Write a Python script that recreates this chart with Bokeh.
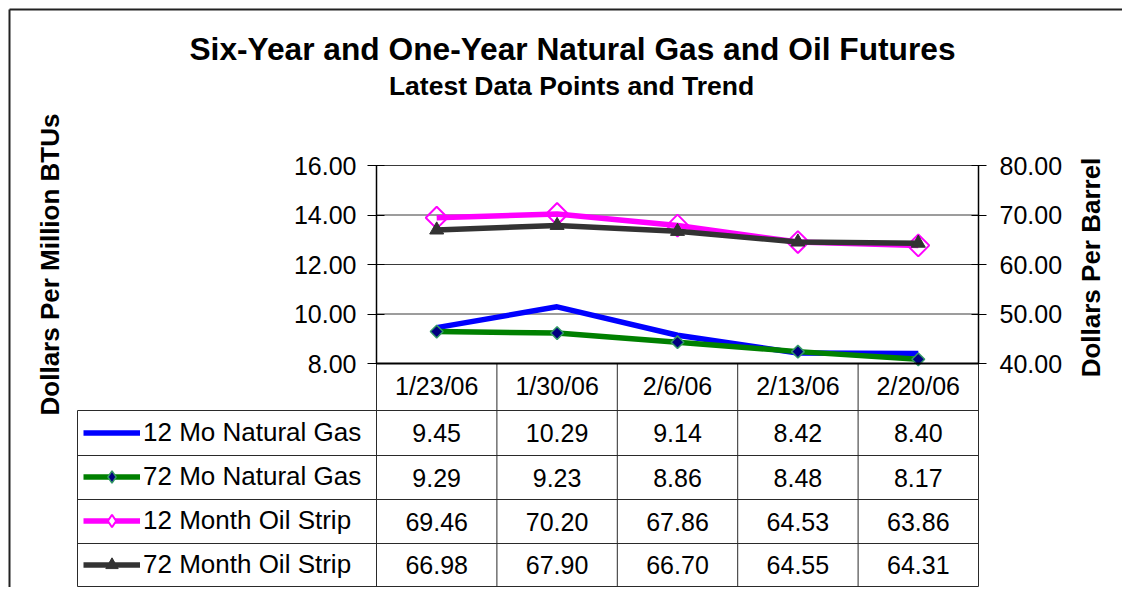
import math
from bokeh.plotting import figure
from bokeh.models import (Range1d, LinearAxis, FixedTicker, NumeralTickFormatter,
                          Label, LabelSet, ColumnDataSource, Legend, LegendItem)
from bokeh.core.properties import value
from bokeh.embed import file_html
from bokeh.resources import INLINE

# ---------------- data ----------------
dates = ["1/23/06", "1/30/06", "2/6/06", "2/13/06", "2/20/06"]
gas_12 = [9.45, 10.29, 9.14, 8.42, 8.40]
gas_72 = [9.29, 9.23, 8.86, 8.48, 8.17]
oil_12 = [69.46, 70.20, 67.86, 64.53, 63.86]
oil_72 = [66.98, 67.90, 66.70, 64.55, 64.31]
series_names = ["12 Mo Natural Gas", "72 Mo Natural Gas", "12 Month Oil Strip", "72 Month Oil Strip"]
gas_ticks = [8, 10, 12, 14, 16]
oil_ticks = [40, 50, 60, 70, 80]
title_text = "Six-Year and One-Year Natural Gas and Oil Futures"
subtitle_text = "Latest Data Points and Trend"
left_label = "Dollars Per Million BTUs"
right_label = "Dollars Per Barrel"

# ---------------- layout (canvas pixels) ----------------
FONT = "Liberation Sans"
W, H = 1122, 587
FL, FR, FT, FB = 376, 978, 165, 363          # plot area edges
ROW_LINES = [410, 455, 499, 543, 586]         # data-table horizontal rules
TABLE_LEFT = 77
n = len(dates)
col_w = (FR - FL) / n
ppu_gas = (FB - FT) / (gas_ticks[-1] - gas_ticks[0])
ppu_oil = (FB - FT) / (oil_ticks[-1] - oil_ticks[0])
xpos = [i + 0.5 for i in range(n)]
X0 = -FL / col_w
Y1 = gas_ticks[-1] + FT / ppu_gas


def sx(px):          # frame-relative screen units (frame == whole canvas)
    return px


def sy(py):
    return H - py


def dx(px):          # canvas pixel -> data x (inverse of the linear x scale)
    return X0 + px / col_w


def dy(py):          # canvas pixel -> data y on the gas axis
    return Y1 - py / ppu_gas


p = figure(width=W, height=H, output_backend="svg", toolbar_location=None,
           x_range=Range1d(X0, n + (W - FR) / col_w),
           y_range=Range1d(gas_ticks[0] - (H - FB) / ppu_gas, Y1),
           min_border=0, min_border_left=0, min_border_right=0,
           min_border_top=0, min_border_bottom=0)
p.extra_y_ranges = {"oil": Range1d(oil_ticks[0] - (H - FB) / ppu_oil, oil_ticks[-1] + FT / ppu_oil)}
p.title.text = ""
p.title.visible = False
p.outline_line_color = None
p.background_fill_color = "white"
p.border_fill_color = "white"
p.xgrid.visible = False
p.ygrid.visible = False

# horizontal gridlines of the plot area
p.segment(x0=[0] * (len(gas_ticks) - 1), x1=[n] * (len(gas_ticks) - 1),
          y0=gas_ticks[1:], y1=gas_ticks[1:], line_color="#3a3a3a", line_width=1)

# ---------------- data table rules ----------------
tx0, ty0, tx1, ty1 = [], [], [], []
for yl in ROW_LINES:
    tx0.append(dx(TABLE_LEFT)); tx1.append(n); ty0.append(dy(yl)); ty1.append(dy(yl))
tx0.append(dx(TABLE_LEFT)); tx1.append(dx(TABLE_LEFT)); ty0.append(dy(ROW_LINES[0])); ty1.append(dy(ROW_LINES[-1]))
for i in range(n + 1):
    tx0.append(i); tx1.append(i); ty0.append(gas_ticks[0]); ty1.append(dy(ROW_LINES[-1]))
p.segment(x0=tx0, y0=ty0, x1=tx1, y1=ty1, line_color="#2a2a2a", line_width=1)

# outer chart border (top and left)
p.segment(x0=[dx(9), dx(9)], y0=[dy(9), dy(9)], x1=[dx(W), dx(9)], y1=[dy(9), dy(H)],
          line_color="#222222", line_width=2)

# left axis (fixed at the left edge of the plot area)
ya = p.yaxis[0]
ya.fixed_location = 0
ya.bounds = (gas_ticks[0], gas_ticks[-1])
ya.ticker = FixedTicker(ticks=gas_ticks)
ya.formatter = NumeralTickFormatter(format="0.00")
ya.major_label_text_font = FONT
ya.major_label_text_font_size = "25px"
ya.major_label_text_color = "black"
ya.major_tick_in = 8
ya.major_tick_out = 9
ya.minor_tick_in = 0
ya.minor_tick_out = 0
ya.major_tick_line_color = "black"
ya.axis_line_color = "black"
ya.axis_line_width = 1.5
ya.major_label_standoff = 11
ya.axis_label = left_label
ya.axis_label_text_font = FONT
ya.axis_label_text_font_size = "26px"
ya.axis_label_text_font_style = "bold"
ya.axis_label_text_color = "black"
ya.axis_label_standoff = 226

# right axis
ra = LinearAxis(y_range_name="oil", ticker=FixedTicker(ticks=oil_ticks),
                formatter=NumeralTickFormatter(format="0.00"),
                fixed_location=n, bounds=(oil_ticks[0], oil_ticks[-1]))
ra.major_label_text_font = FONT
ra.major_label_text_font_size = "25px"
ra.major_label_text_color = "black"
ra.major_tick_in = 7
ra.major_tick_out = 8
ra.minor_tick_in = 0
ra.minor_tick_out = 0
ra.major_tick_line_color = "black"
ra.axis_line_color = "black"
ra.axis_line_width = 1.5
ra.major_label_standoff = 13
p.add_layout(ra, "right")
p.add_layout(Label(x=sx(1090), y=sy(267), x_units="screen", y_units="screen",
                   text=right_label, angle=math.pi / 2, text_align="center",
                   text_baseline="middle", text_font=FONT, text_font_size="26px",
                   text_font_style="bold", text_color="black"))

# bottom axis: dates = header row of the data table
xa = p.xaxis[0]
xa.fixed_location = gas_ticks[0]
xa.bounds = (0, n)
xa.ticker = FixedTicker(ticks=xpos)
xa.major_label_overrides = {x: d for x, d in zip(xpos, dates)}
xa.major_label_text_font = FONT
xa.major_label_text_font_size = "25px"
xa.major_label_text_color = "black"
xa.major_tick_in = 0
xa.major_tick_out = 0
xa.minor_tick_in = 0
xa.minor_tick_out = 0
xa.major_tick_line_color = None
xa.axis_line_color = "black"
xa.axis_line_width = 2
xa.major_label_standoff = 8

# ---------------- series ----------------
src = ColumnDataSource(dict(x=xpos, date=dates, gas12=gas_12, gas72=gas_72, oil12=oil_12, oil72=oil_72))

LW = 5.5
r_g12 = p.line(x="x", y="gas12", source=src, line_color="#0000FF", line_width=LW)
r_g72 = p.line(x="x", y="gas72", source=src, line_color="#008000", line_width=LW)
m_g72 = p.scatter(x="x", y="gas72", source=src, marker="square", angle=math.pi / 4, size=9,
                  fill_color="#000080", line_color="#339966", line_width=1.5)
r_o12 = p.line(x="x", y="oil12", source=src, y_range_name="oil", line_color="#FF00FF", line_width=LW)
m_o12 = p.scatter(x="x", y="oil12", source=src, y_range_name="oil", marker="square",
                  angle=math.pi / 4, size=15.5, fill_color=None, line_color="#FF00FF", line_width=2)
r_o72 = p.line(x="x", y="oil72", source=src, y_range_name="oil", line_color="#333333", line_width=LW)
m_o72 = p.scatter(x="x", y="oil72", source=src, y_range_name="oil", marker="triangle", size=14,
                  fill_color="#333333", line_color="#333333", line_width=1)

# legend-key versions of the diamond markers (legend keys are drawn unrotated)
k_g72 = p.scatter(x="x", y="gas72", source=src, marker="diamond", size=12,
                  fill_color="#000080", line_color="#339966", line_width=1.5, visible=False)
k_o12 = p.scatter(x="x", y="oil12", source=src, y_range_name="oil", marker="diamond", size=16,
                  fill_color="white", line_color="#FF00FF", line_width=2, visible=False)

# ---------------- title ----------------
p.add_layout(Label(x=sx(572), y=sy(48.5), x_units="screen", y_units="screen", text=title_text,
                   text_align="center", text_baseline="middle", text_font=FONT,
                   text_font_size="31.7px", text_font_style="bold", text_color="black"))
p.add_layout(Label(x=sx(571), y=sy(85), x_units="screen", y_units="screen", text=subtitle_text,
                   text_align="center", text_baseline="middle", text_font=FONT,
                   text_font_size="26.5px", text_font_style="bold", text_color="black"))

# ---------------- data table values ----------------
row_centers = [(ROW_LINES[i] + ROW_LINES[i + 1]) / 2 for i in range(len(ROW_LINES) - 1)]
vx, vy, vt = [], [], []
for rc, vals in zip(row_centers, [gas_12, gas_72, oil_12, oil_72]):
    for xv, v in zip(xpos, vals):
        vx.append(xv); vy.append(sy(rc)); vt.append(f"{v:.2f}")
p.add_layout(LabelSet(x="x", y="y", text="t", x_units="data", y_units="screen",
                      source=ColumnDataSource(dict(x=vx, y=vy, t=vt)),
                      text_align="center", text_baseline="middle",
                      text_font=value(FONT), text_font_size=value("25px"), text_color="black"))

# legend keys in the table's first column
item_h, gap = 31, 13
leg_top = row_centers[0] - item_h / 2
leg_h = 4 * item_h + 3 * gap
legend = Legend(items=[LegendItem(label=series_names[0], renderers=[r_g12]),
                       LegendItem(label=series_names[1], renderers=[r_g72, k_g72]),
                       LegendItem(label=series_names[2], renderers=[r_o12, k_o12]),
                       LegendItem(label=series_names[3], renderers=[r_o72, m_o72])],
                location=(sx(83), sy(leg_top + leg_h)), click_policy="none",
                padding=0, margin=0, spacing=gap, glyph_width=57, glyph_height=item_h,
                label_height=item_h, label_standoff=3, label_text_font=FONT,
                label_text_font_size="26px", label_text_color="black",
                label_text_baseline="middle", border_line_color=None,
                background_fill_alpha=0)
p.add_layout(legend)

open("out.html", "w").write(file_html(p, INLINE))
